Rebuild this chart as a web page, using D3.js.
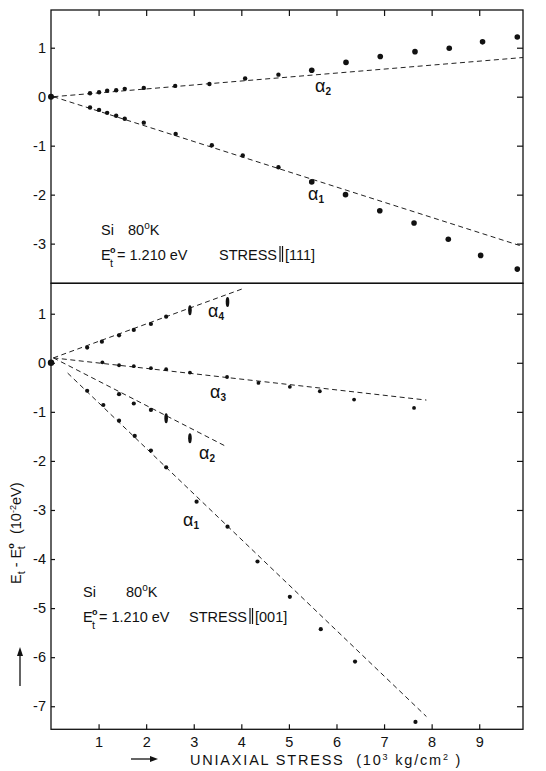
<!DOCTYPE html>
<html>
<head>
<meta charset="utf-8">
<script src="https://cdn.jsdelivr.net/npm/d3@7"></script>
<style>
  body { margin: 0; background: #fff; }
  svg text { font-family: "Liberation Sans", Arial, sans-serif; fill: #111; white-space: pre; }
  .axis path { display: none; }
  .axis line { stroke: #111; stroke-width: 1.2; }
  .axis text { font-size: 14.5px; font-family: "Liberation Sans", Arial, sans-serif; }
  .fit { fill: none; stroke: #222; stroke-width: 1; stroke-dasharray: 5,3.5; }
</style>
</head>
<body>
<div id="chart"></div>
<script>
// stress axis (10^3 kg/cm^2)
var xTicks = [1, 2, 3, 4, 5, 6, 7, 8, 9];
var topYTicks = [1, 0, -1, -2, -3];
var botYTicks = [1, 0, -1, -2, -3, -4, -5, -6, -7];

// top panel, STRESS || [111]
var topA2Stress = [0, 0.82, 1.01, 1.18, 1.37, 1.55, 1.95, 2.61, 3.33, 4.08, 4.78, 5.48, 6.20, 6.92, 7.65, 8.37, 9.07, 9.80];
var topA2Shift  = [0, 0.07, 0.09, 0.12, 0.13, 0.16, 0.18, 0.22, 0.26, 0.37, 0.45, 0.54, 0.70, 0.82, 0.92, 0.99, 1.12, 1.22];
var topA1Stress = [0.82, 1.01, 1.18, 1.37, 1.55, 1.95, 2.62, 3.38, 4.03, 4.78, 5.48, 6.19, 6.91, 7.63, 8.35, 9.03, 9.80];
var topA1Shift  = [-0.22, -0.27, -0.33, -0.39, -0.45, -0.53, -0.76, -0.99, -1.20, -1.44, -1.74, -2.00, -2.33, -2.58, -2.91, -3.24, -3.52];
var topA2Fit = [[0.05, 0], [9.92, 0.80]];
var topA1Fit = [[0.05, 0], [9.92, -3.06]];

// bottom panel, STRESS || [001]
var botA4Stress = [0, 0.76, 1.07, 1.43, 1.74, 2.10, 2.42, 2.92, 3.71];
var botA4Shift  = [0, 0.31, 0.43, 0.56, 0.67, 0.79, 0.94, 1.07, 1.24];
var botA3Stress = [1.08, 1.43, 1.74, 2.10, 2.42, 2.92, 3.70, 4.36, 5.02, 5.65, 6.37, 7.63];
var botA3Shift  = [0.01, -0.05, -0.07, -0.11, -0.13, -0.20, -0.29, -0.41, -0.49, -0.58, -0.75, -0.92];
var botA2Stress = [1.43, 1.74, 2.10, 2.42, 2.92];
var botA2Shift  = [-0.64, -0.83, -0.96, -1.13, -1.54];
var botA1Stress = [0.76, 1.10, 1.43, 1.76, 2.10, 2.42, 3.06, 3.71, 4.34, 5.02, 5.67, 6.39, 7.66];
var botA1Shift  = [-0.57, -0.86, -1.18, -1.49, -1.79, -2.13, -2.83, -3.34, -4.05, -4.77, -5.43, -6.09, -7.32];
var botA4Fit = [[0.05, 0.1], [4.06, 1.52]];
var botA3Fit = [[0.05, 0.1], [7.89, -0.76]];
var botA2Fit = [[0.05, 0.1], [3.69, -1.71]];
var botA1Fit = [[0.35, -0.21], [7.89, -7.21]];

var widthx = 546, heighty = 771;
var left = 51, right = 523;
var topY0 = 10, midY = 283.3, botY1 = 729.3;

var svg = d3.select("#chart").append("svg")
    .attr("width", widthx)
    .attr("height", heighty);

var x = d3.scaleLinear().domain([0, 9.92]).range([left, right]);
var yTop = d3.scaleLinear().domain([1.77, -3.81]).range([topY0, midY]);
var yBot = d3.scaleLinear().domain([1.62, -7.47]).range([midY, botY1]);

function pairs(xs, ys) { return xs.map(function(v, i) { return [v, ys[i]]; }); }

function panel(y, yTicks, top, bottom, showTopTicks) {
    var g = svg.append("g");
    g.append("g").attr("class", "axis")
        .attr("transform", "translate(" + left + ",0)")
        .call(d3.axisLeft(y).tickValues(yTicks).tickSize(-4).tickPadding(5)
            .tickFormat(function(d) { return d < 0 ? "-" + (-d) : d; }));
    g.append("g").attr("class", "axis")
        .attr("transform", "translate(" + right + ",0)")
        .call(d3.axisRight(y).tickValues(yTicks).tickSize(-6).tickFormat(""));
    if (showTopTicks) {
        g.append("g").attr("class", "axis")
            .attr("transform", "translate(0," + top + ")")
            .call(d3.axisTop(x).tickValues(xTicks).tickSize(-6).tickFormat(""));
    }
    // frame
    g.append("rect")
        .attr("x", left).attr("y", top)
        .attr("width", right - left).attr("height", bottom - top)
        .attr("fill", "none").attr("stroke", "#111").attr("stroke-width", 1.3);
    return g;
}

var gTop = panel(yTop, topYTicks, topY0, midY, true);
var gBot = panel(yBot, botYTicks, midY, botY1, false);

// bottom stress axis
svg.append("g").attr("class", "axis")
    .attr("transform", "translate(0," + botY1 + ")")
    .call(d3.axisBottom(x).tickValues(xTicks).tickSize(-5).tickPadding(7));

var line = d3.line()
    .x(function(d) { return x(d[0]); });

function fit(g, y, pts) {
    g.append("path").attr("class", "fit")
        .attr("d", line.y(function(d) { return y(d[1]); })(pts));
}

function dots(g, y, pts, r, tall) {
    g.selectAll(null).data(pts).enter().append("ellipse")
        .attr("cx", function(d) { return x(d[0]); })
        .attr("cy", function(d) { return y(d[1]); })
        .attr("rx", function(d, i) { return tall && tall.indexOf(i) >= 0 ? 1.8 : (typeof r === "function" ? r(d) : r); })
        .attr("ry", function(d, i) { return tall && tall.indexOf(i) >= 0 ? 5 : (typeof r === "function" ? r(d) : r); })
        .attr("fill", "#111");
}

fit(gTop, yTop, topA2Fit);
fit(gTop, yTop, topA1Fit);
var topR = function(d) { return d[0] > 5 ? 2.8 : 2.2; };
dots(gTop, yTop, pairs(topA2Stress, topA2Shift), topR);
dots(gTop, yTop, pairs(topA1Stress, topA1Shift), topR);

fit(gBot, yBot, botA4Fit);
fit(gBot, yBot, botA3Fit);
fit(gBot, yBot, botA2Fit);
fit(gBot, yBot, botA1Fit);
dots(gBot, yBot, pairs(botA4Stress, botA4Shift), 2.1, [7, 8]);
dots(gBot, yBot, pairs(botA3Stress, botA3Shift), 1.9);
dots(gBot, yBot, pairs(botA2Stress, botA2Shift), 2.1, [3, 4]);
dots(gBot, yBot, pairs(botA1Stress, botA1Shift), 2.1);
svg.append("circle").attr("cx", x(0)).attr("cy", yBot(0)).attr("r", 3.2).attr("fill", "#111");
svg.append("circle").attr("cx", x(0)).attr("cy", yTop(0)).attr("r", 3).attr("fill", "#111");

// alpha labels
function alpha(px, py, sub) {
    var t = svg.append("text").attr("x", px).attr("y", py).style("font-size", "18px");
    t.append("tspan").text("α");
    t.append("tspan").attr("dy", 3).style("font-size", "10px").style("font-weight", "bold").text(sub);
}
alpha(315, 92, "2");
alpha(308, 200, "1");
alpha(208, 317, "4");
alpha(210, 398, "3");
alpha(199, 459, "2");
alpha(183, 526, "1");

// sample notes
function note(px, py, gap, stressX, dir) {
    var a = svg.append("text").attr("x", px).attr("y", py).style("font-size", "14.5px");
    a.append("tspan").text("Si");
    a.append("tspan").attr("x", px + gap).text("80");
    a.append("tspan").attr("dy", -6).style("font-size", "10px").text("o");
    a.append("tspan").attr("dy", 6).text("K");
    var by = py + 25;
    svg.append("text").attr("x", px).attr("y", by).style("font-size", "14.5px").text("E");
    svg.append("text").attr("x", px + 9).attr("y", by - 7).style("font-size", "9px").style("font-weight", "bold").text("o");
    svg.append("text").attr("x", px + 9).attr("y", by + 7).style("font-size", "11px").text("t");
    svg.append("text").attr("x", px + 16).attr("y", by).style("font-size", "14.5px").text("= 1.210 eV");
    var s = svg.append("text").attr("x", stressX).attr("y", by).style("font-size", "14.5px").text("STRESS");
    var w = s.node().getComputedTextLength();
    // double bar drawn as two strokes
    [3, 5.5].forEach(function(o) {
        svg.append("line").attr("x1", stressX + w + o).attr("x2", stressX + w + o)
            .attr("y1", by - 14).attr("y2", by + 2)
            .attr("stroke", "#111").attr("stroke-width", 1.2);
    });
    svg.append("text").attr("x", stressX + w + 8).attr("y", by).style("font-size", "14.5px").text("[" + dir + "]");
}
note(101, 235, 27, 219, "111");
note(83, 597, 43, 189, "001");

// x label
svg.append("line").attr("x1", 131).attr("x2", 152).attr("y1", 759).attr("y2", 759)
    .attr("stroke", "#111").attr("stroke-width", 1.3);
svg.append("path").attr("d", "M158,759 L150,756 L150,762 Z").attr("fill", "#111");
var xl = svg.append("text").attr("x", 190).attr("y", 765)
    .style("font-size", "14.5px").style("letter-spacing", "1.8px");
xl.append("tspan").text("UNIAXIAL STRESS  (10");
xl.append("tspan").attr("dy", -5).style("font-size", "9px").text("3");
xl.append("tspan").attr("dy", 5).text(" kg/cm");
xl.append("tspan").attr("dy", -5).style("font-size", "9px").text("2");
xl.append("tspan").attr("dy", 5).text(" )");

// y label
var yl = svg.append("text").attr("transform", "translate(21,584) rotate(-90)")
    .style("font-size", "14.5px");
yl.append("tspan").text("E");
yl.append("tspan").attr("dy", 4).style("font-size", "11px").text("t");
yl.append("tspan").attr("dy", -4).text(" - E");
yl.append("tspan").attr("dy", -7).style("font-size", "9px").style("font-weight", "bold").text("o");
yl.append("tspan").attr("dx", -6).attr("dy", 11).style("font-size", "11px").text("t");
yl.append("tspan").attr("dy", -4).text("   (10");
yl.append("tspan").attr("dy", -5).style("font-size", "9px").text("-2");
yl.append("tspan").attr("dy", 5).text("eV)");

svg.append("line").attr("x1", 20).attr("x2", 20).attr("y1", 686).attr("y2", 654)
    .attr("stroke", "#111").attr("stroke-width", 1.3);
svg.append("path").attr("d", "M20,647 L17,656 L23,656 Z").attr("fill", "#111");
</script>
</body>
</html>
